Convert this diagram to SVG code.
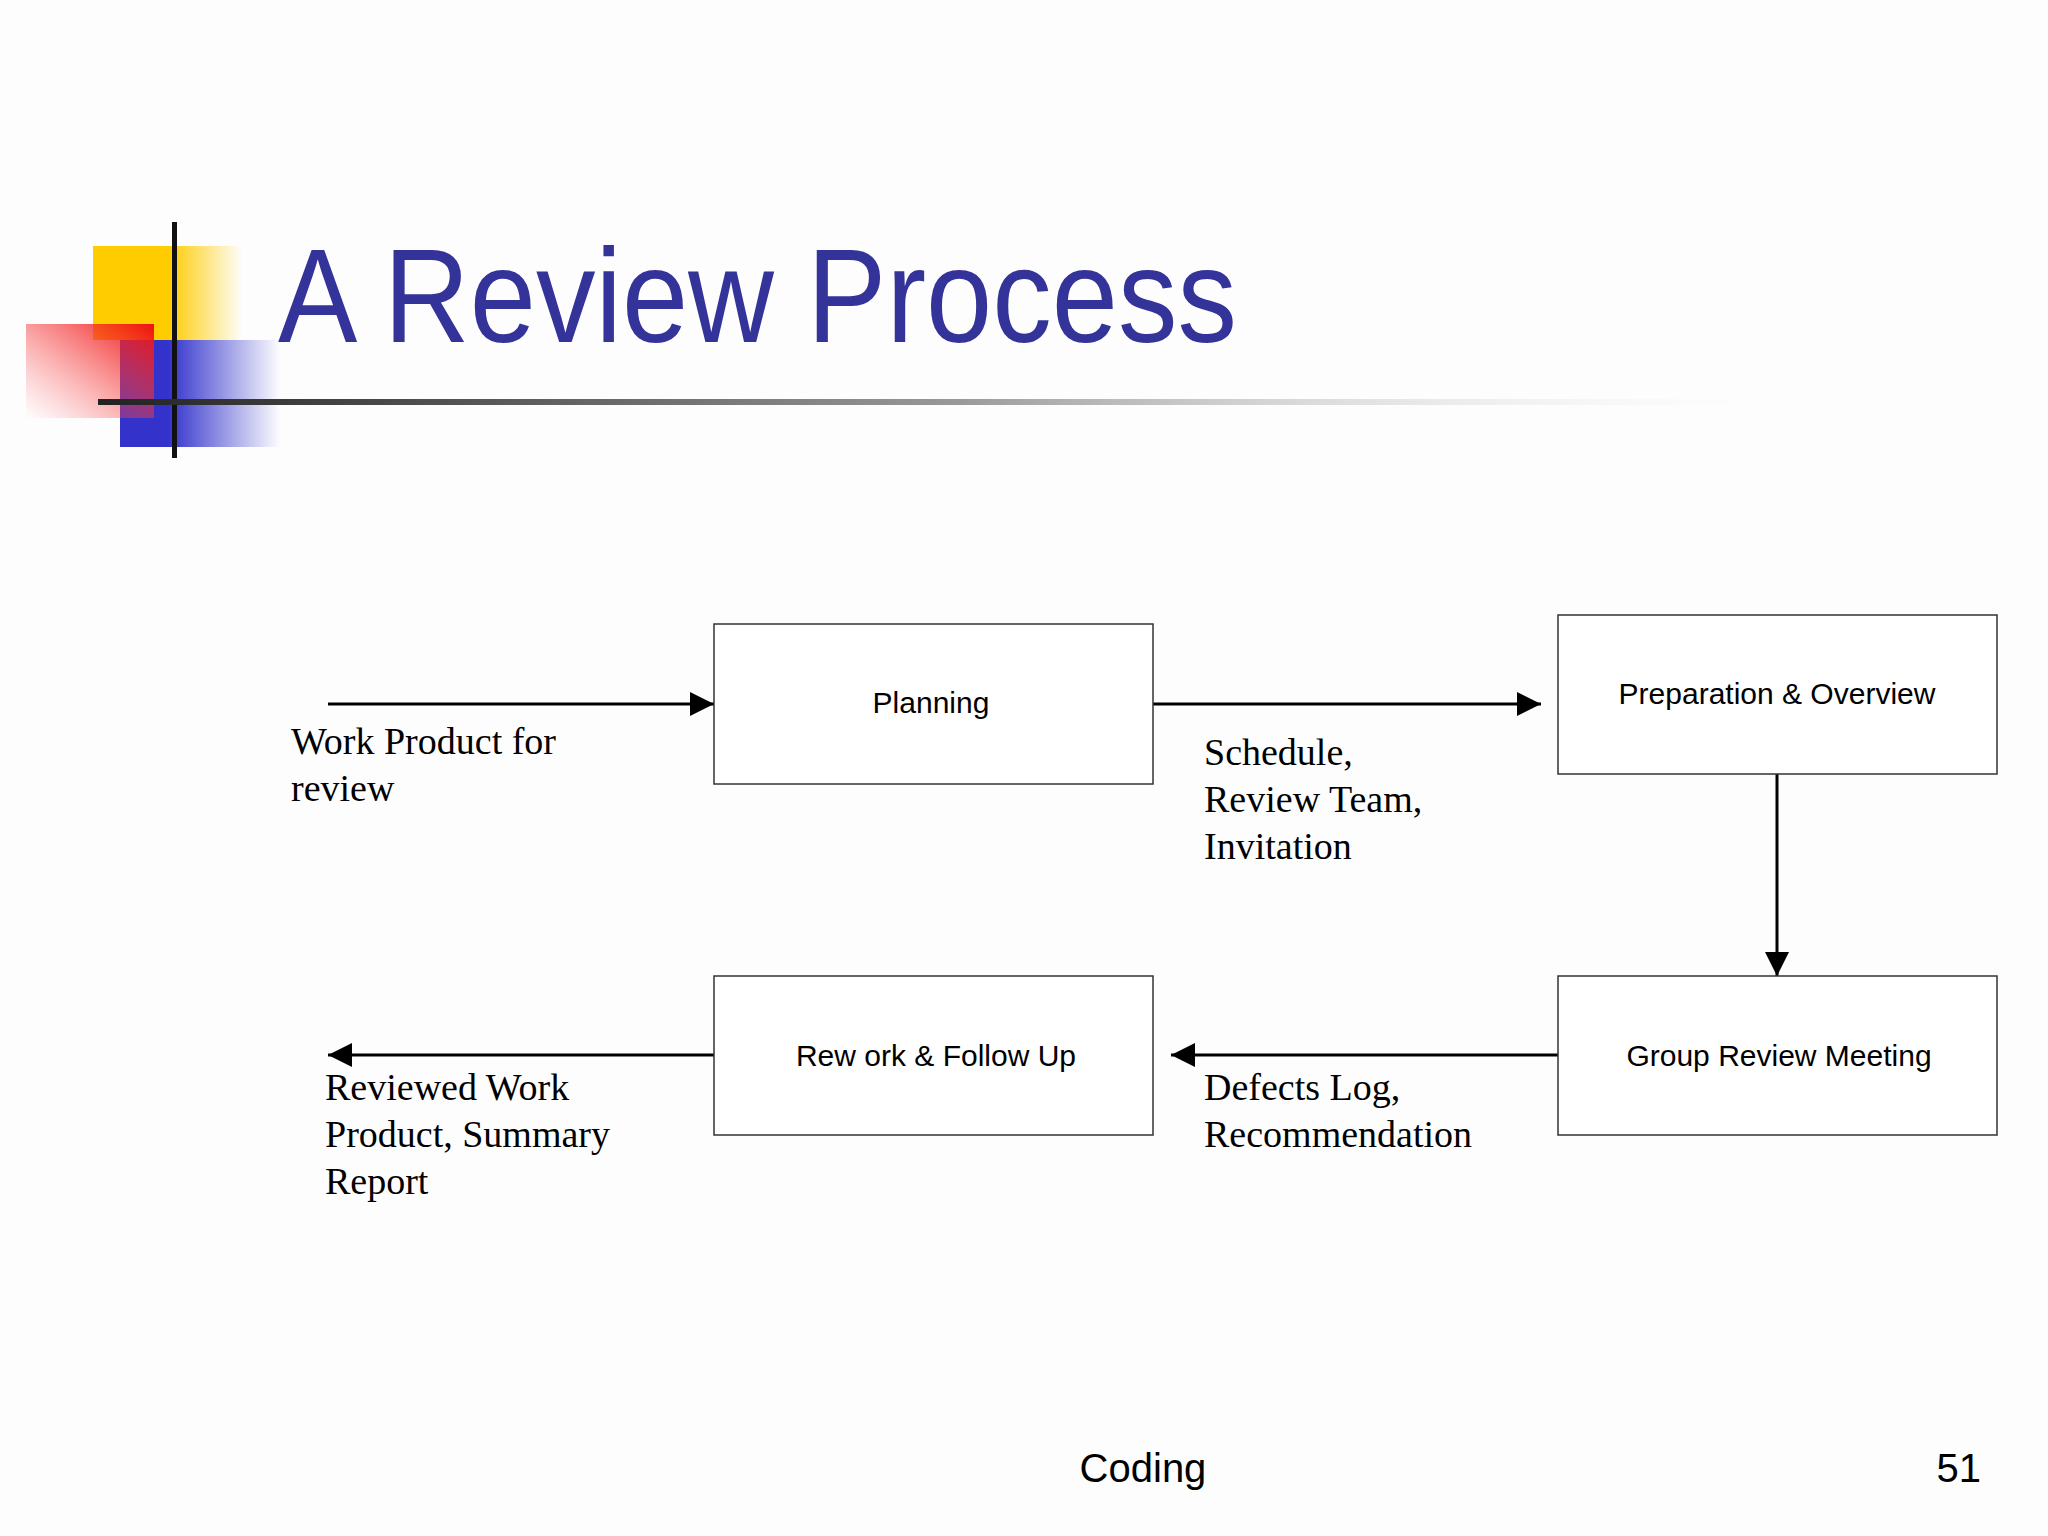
<svg xmlns="http://www.w3.org/2000/svg" width="2048" height="1536" viewBox="0 0 2048 1536">
<defs>
<linearGradient id="yg" x1="0" x2="1" y1="0" y2="0"><stop offset="0.5" stop-color="#ffcc00"/><stop offset="1" stop-color="#ffcc00" stop-opacity="0"/></linearGradient>
<linearGradient id="rg" x1="1" y1="0" x2="0" y2="1"><stop offset="0" stop-color="#ee1111"/><stop offset="1" stop-color="#ff6666" stop-opacity="0"/></linearGradient>
<linearGradient id="bg" x1="0" x2="1" y1="0" y2="0"><stop offset="0.3" stop-color="#3333cc"/><stop offset="1" stop-color="#3333cc" stop-opacity="0"/></linearGradient>
<linearGradient id="lg" x1="0" x2="1" y1="0" y2="0"><stop offset="0" stop-color="#222"/><stop offset="0.5" stop-color="#999"/><stop offset="1" stop-color="#fff" stop-opacity="0"/></linearGradient>
<marker id="ahb" markerWidth="24" markerHeight="24" refX="24" refY="12" orient="auto" markerUnits="userSpaceOnUse" viewBox="0 0 24 24"><path d="M0,0 L24,12 L0,24 z" fill="#000"/></marker>
<style>
.box{fill:#fff;stroke:#333;stroke-width:1.5}
.bt{font-family:Arial,"Liberation Sans",sans-serif;font-size:30px;fill:#000;text-anchor:middle}
.lb{font-family:"Liberation Serif",serif;font-size:38px;fill:#000}
.cn{stroke:#000;stroke-width:3;fill:none;marker-end:url(#ahb)}
</style>
</defs>
<rect width="2048" height="1536" fill="#fdfdfe"/>
<g id="logo">
<rect x="93" y="246" width="150" height="94" fill="url(#yg)"/>
<rect x="120" y="340" width="160" height="107" fill="url(#bg)"/>
<rect x="26" y="324" width="128" height="94" fill="url(#rg)"/>
<rect x="172" y="222" width="5" height="236" fill="#111"/>
<rect x="98" y="399" width="1720" height="6" fill="url(#lg)"/>
</g>
<text x="278" y="342" font-family="'Liberation Sans',Arial,sans-serif" font-size="134" fill="#333399" textLength="959" lengthAdjust="spacingAndGlyphs">A Review Process</text>
<g id="connectors">
<line class="cn" x1="328" y1="704" x2="714" y2="704"/>
<line class="cn" x1="1153" y1="704" x2="1541" y2="704"/>
<line class="cn" x1="1777" y1="774" x2="1777" y2="976"/>
<line class="cn" x1="1558" y1="1055" x2="1171" y2="1055"/>
<line class="cn" x1="714" y1="1055" x2="328" y2="1055"/>
</g>
<g id="planning"><rect class="box" x="714" y="624" width="439" height="160"/><text class="bt" x="931" y="713">Planning</text></g>
<g id="prep"><rect class="box" x="1558" y="615" width="439" height="159"/><text class="bt" x="1777" y="704">Preparation &amp; Overview</text></g>
<g id="group"><rect class="box" x="1558" y="976" width="439" height="159"/><text class="bt" x="1779" y="1066">Group Review  Meeting</text></g>
<g id="rework"><rect class="box" x="714" y="976" width="439" height="159"/><text class="bt" x="936" y="1066">Rew ork &amp; Follow  Up</text></g>
<g id="labels">
<text class="lb" x="291" y="754">Work Product for</text>
<text class="lb" x="291" y="801">review</text>
<text class="lb" x="1204" y="765">Schedule,</text>
<text class="lb" x="1204" y="812">Review Team,</text>
<text class="lb" x="1204" y="859">Invitation</text>
<text class="lb" x="1204" y="1100">Defects Log,</text>
<text class="lb" x="1204" y="1147">Recommendation</text>
<text class="lb" x="325" y="1100">Reviewed Work</text>
<text class="lb" x="325" y="1147">Product, Summary</text>
<text class="lb" x="325" y="1194">Report</text>
</g>
<text x="1143" y="1482" font-family="'Liberation Sans',Arial,sans-serif" font-size="40" text-anchor="middle">Coding</text>
<text x="1981" y="1482" font-family="'Liberation Sans',Arial,sans-serif" font-size="40" text-anchor="end">51</text>
</svg>
